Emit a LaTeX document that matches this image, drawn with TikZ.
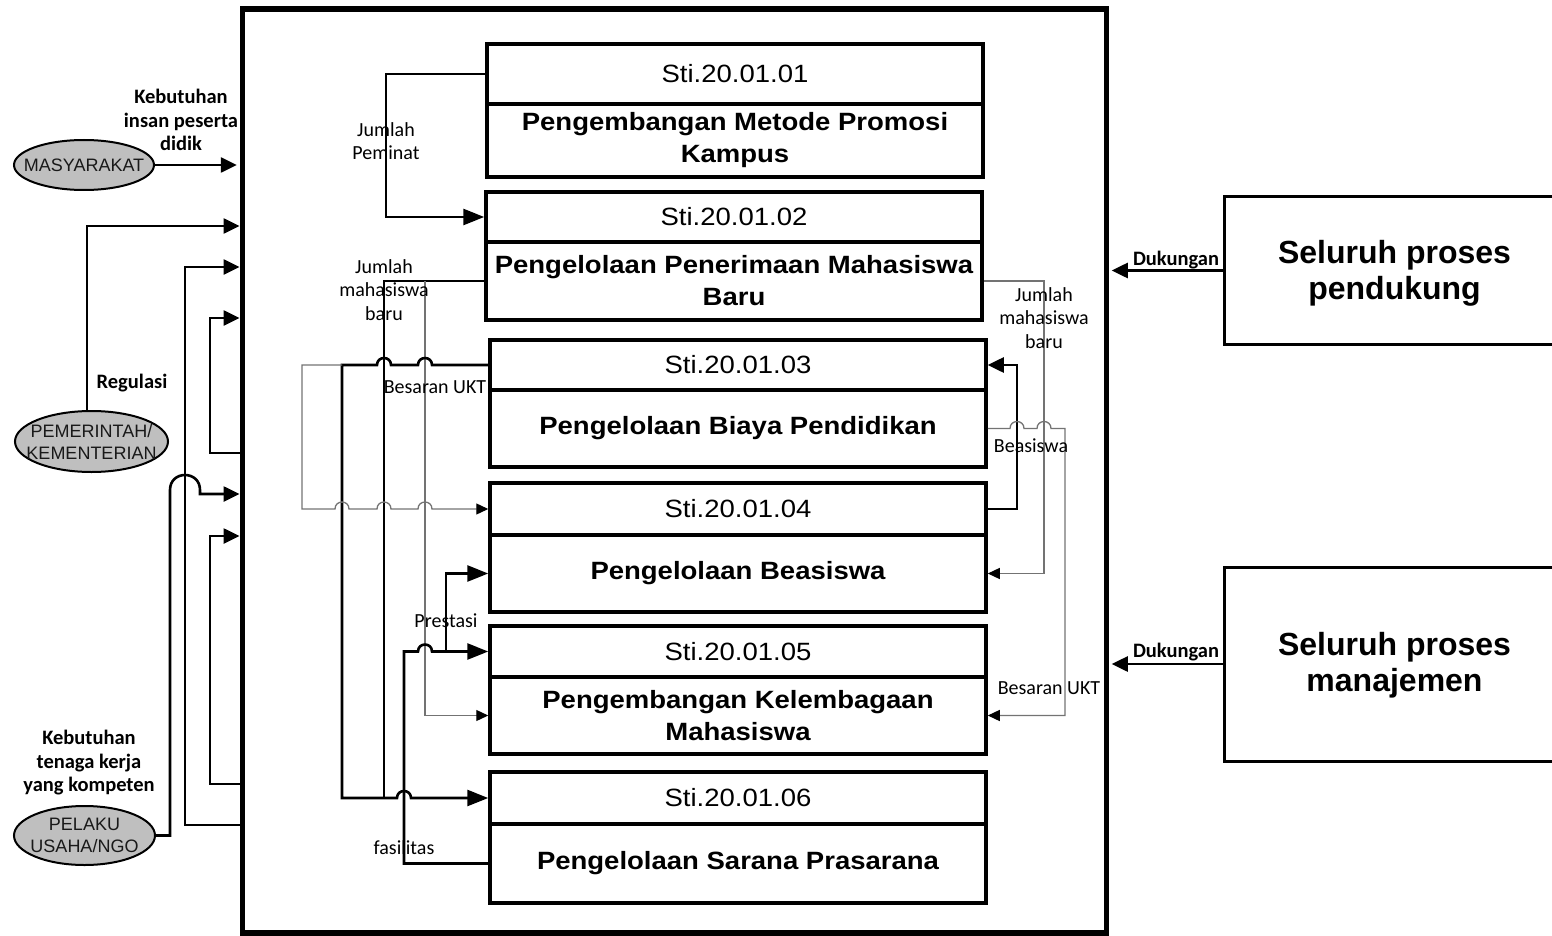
\documentclass[tikz,border=0pt]{standalone}
\usepackage{fontspec}
\setmainfont{Liberation Sans}
\newfontfamily\boxfont[FakeStretch=1.1]{Liberation Sans}
\newfontfamily\lblfont{Carlito}
\usetikzlibrary{arrows.meta,shapes.geometric}
\begin{document}
\begin{tikzpicture}[x=1pt,y=-1pt,
  thk/.style={line width=2.6pt, draw=black},
  thn/.style={line width=1.3pt, draw=black!55},
  tipL/.style={-{Triangle[length=16pt,width=15pt]}},
  tipB/.style={-{Triangle[length=21pt,width=16pt]}},
  tipS/.style={-{Triangle[length=12pt,width=11pt,color=black]}},
  headcell/.style={draw, line width=3.5pt, minimum width=496pt, inner sep=0pt,
    font=\boxfont\fontsize{25}{30}\selectfont},
  bodycell/.style={draw, line width=3.5pt, minimum width=496pt, inner sep=0pt, align=center,
    font=\boxfont\bfseries\fontsize{25}{32}\selectfont},
  actor/.style={ellipse, draw, line width=2pt, fill=black!25, inner sep=0pt},
  actortext/.style={align=center, inner sep=0pt, text=black!90,
    font=\fontsize{18}{22}\selectfont},
  sidebox/.style={draw, line width=3pt, minimum width=330pt, inner sep=0pt},
  bigtext/.style={align=center, inner sep=0pt, font=\bfseries\fontsize{32}{36}\selectfont},
  lbl/.style={align=center, inner sep=0pt, font=\lblfont\fontsize{20}{23.5}\selectfont},
  blbl/.style={align=center, inner sep=0pt, font=\lblfont\bfseries\fontsize{20.5}{23.5}\selectfont},
]
\useasboundingbox (0,0) rectangle (1552,936);

% main frame
\node[draw, line width=5.5pt, minimum width=864pt, minimum height=924pt, inner sep=0pt] (frame) at (674.25,471) {};

% process boxes
\node[headcell, minimum height=60pt] (b1h) at (735,74) {Sti.20.01.01};
\node[bodycell, minimum height=73pt] (b1b) at (735,140.5) {Pengembangan Metode Promosi\\Kampus};
\node[headcell, minimum height=50pt] (b2h) at (734,217) {Sti.20.01.02};
\node[bodycell, minimum height=78pt] (b2b) at (734,281) {Pengelolaan Penerimaan Mahasiswa\\Baru};
\node[headcell, minimum height=50pt] (b3h) at (738,365) {Sti.20.01.03};
\node[bodycell, minimum height=77pt] (b3b) at (738,428.5) {Pengelolaan Biaya Pendidikan};
\node[headcell, minimum height=52pt] (b4h) at (738,509) {Sti.20.01.04};
\node[bodycell, minimum height=77pt] (b4b) at (738,573.5) {Pengelolaan Beasiswa};
\node[headcell, minimum height=51pt] (b5h) at (738,651.5) {Sti.20.01.05};
\node[bodycell, minimum height=77pt] (b5b) at (738,715.5) {Pengembangan Kelembagaan\\Mahasiswa};
\node[headcell, minimum height=52pt] (b6h) at (738,798) {Sti.20.01.06};
\node[bodycell, minimum height=79pt] (b6b) at (738,863.5) {Pengelolaan Sarana Prasarana};

% actors
\node[actor, minimum width=140pt, minimum height=50pt] (mas) at (84,165) {};
\node[actortext] (mast) at (mas) {MASYARAKAT};
\node[actor, minimum width=153pt, minimum height=61pt] (pem) at (91.5,441.5) {};
\node[actortext] (pemt) at (pem) {PEMERINTAH/\\KEMENTERIAN};
\node[actor, minimum width=141pt, minimum height=59pt] (pel) at (84.5,835.5) {};
\node[actortext] (pelt) at (pel) {PELAKU\\USAHA/NGO};

% side boxes
\node[sidebox, minimum height=148pt] (pend) at (1389,270.5) {};
\node[bigtext] (pendt) at (1394.5,273) {Seluruh proses\\pendukung};
\node[sidebox, minimum height=194pt] (mgmt) at (1389,664) {};
\node[bigtext] (mgmtt) at (1394.5,665) {Seluruh proses\\manajemen};

% frame entry points
\coordinate (in1) at (239.5,226);
\coordinate (in2) at (239.5,267);
\coordinate (in3) at (239.5,318);
\coordinate (in4) at (239.5,494);
\coordinate (in5) at (239.5,536);
\coordinate (out2) at (242,825);
\coordinate (out3) at (242,453);
\coordinate (out5) at (242,784);

% left side connectors
\draw[thk,tipL,shorten >=2.75pt] (mas.east) -- (mas.east -| frame.west);
\draw[thk,tipL] ([xshift=-4.5pt]pem.north) |- (in1);
\draw[thk,tipL] (out2) -- (185,825) -- (185,267) -- (in2);
\draw[thk,tipL] (out3) -- (210,453) -- (210,318) -- (in3);
\draw[thk,tipL] (pel.east) -- (170,835.5) -- (170,490) .. controls (170,470) and (200,470) .. (200,490) -- (200,494) -- (in4);
\draw[thk,tipL] (out5) -- (210,784) -- (210,536) -- (in5);

% right side connectors
\draw[thk,tipL,shorten >=2.75pt] (pend.west) -- (pend.west -| frame.east);
\draw[thk,tipL,shorten >=2.75pt] (mgmt.west) -- (mgmt.west -| frame.east);

% internal connectors
\draw[thk,tipB] (b1h.west) -- (386,74) -- (386,217) -- (b2h.west);
\draw[thk] (b2b.west) -| (384,798);
\draw[thn,tipS] (425,281) |- (b5b.west);
\draw[thk,tipB] (b3h.west) -- (432,365) .. controls (432,355.7) and (418,355.7) .. (418,365)
  -- (391,365) .. controls (391,355.7) and (377,355.7) .. (377,365)
  -- (342,365) -- (342,798)
  -- (397,798) .. controls (397,788.7) and (411,788.7) .. (411,798) -- (b6h.west);
\draw[thn,tipS] (342,365) -- (302,365) -- (302,509)
  -- (335,509) .. controls (335,499.7) and (349,499.7) .. (349,509)
  -- (377,509) .. controls (377,499.7) and (391,499.7) .. (391,509)
  -- (418,509) .. controls (418,499.7) and (432,499.7) .. (432,509) -- (b4h.west);
\draw[thk,tipL] (b4h.east) -- (1017,509) -- (1017,365) -- (b3h.east);
\draw[thn,tipS] (b2b.east) -- (1044,281) |- (b4b.east);
\draw[thn,tipS] (b3b.east) -- (1010,428.5) .. controls (1010,419.2) and (1024,419.2) .. (1024,428.5)
  -- (1037,428.5) .. controls (1037,419.2) and (1051,419.2) .. (1051,428.5)
  -- (1065,428.5) |- (b5b.east);
\draw[thk,tipB] (b6b.west) -- (404,863.5) -- (404,651.5)
  -- (418,651.5) .. controls (418,642.2) and (432,642.2) .. (432,651.5) -- (b5h.west);
\draw[thk,tipB] (446,651.5) |- (b4b.west);

% labels
\node[lbl] (lJP) at (386,141) {Jumlah\\Peminat};
\node[lbl] (lJM1) at (384,290) {Jumlah\\mahasiswa\\baru};
\node[lbl] (lBU1) at (435,387) {Besaran UKT};
\node[lbl] (lPr) at (446,621) {Prestasi};
\node[lbl] (lFa) at (404,848) {fasilitas};
\node[lbl] (lJM2) at (1044,318) {Jumlah\\mahasiswa\\baru};
\node[lbl] (lBe) at (1031,446) {Beasiswa};
\node[lbl] (lBU2) at (1049,688) {Besaran UKT};
\node[blbl] (lKI) at (181,120) {Kebutuhan\\insan peserta\\didik};
\node[blbl] (lReg) at (132,383) {Regulasi};
\node[blbl] (lKT) at (89,763) {Kebutuhan\\tenaga kerja\\yang kompeten};
\node[blbl] (dk1) at (1176,260) {Dukungan};
\node[blbl] (dk2) at (1176,652) {Dukungan};
\end{tikzpicture}
\end{document}
